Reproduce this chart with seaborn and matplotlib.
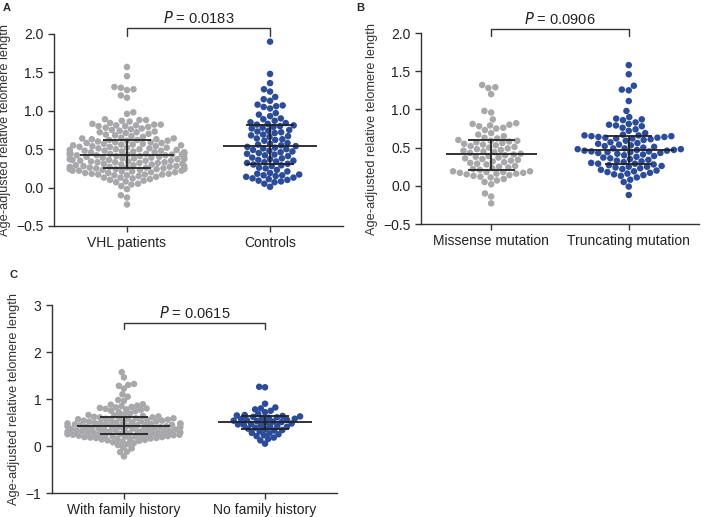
import numpy as np
import pandas as pd
import matplotlib
matplotlib.use("Agg")
import matplotlib.pyplot as plt
from matplotlib.collections import PathCollection
import seaborn as sns

# values (age-adjusted relative telomere length)
vhl_patients = [
    -0.22, -0.13, -0.10, -0.02, 0.02, 0.04, 0.05, 0.07, 0.08, 0.09,
    0.10, 0.11, 0.12, 0.13, 0.13, 0.14, 0.15, 0.16, 0.16, 0.17,
    0.17, 0.17, 0.18, 0.18, 0.19, 0.19, 0.20, 0.20, 0.21, 0.21,
    0.22, 0.22, 0.22, 0.23, 0.23, 0.24, 0.24, 0.24, 0.24, 0.25,
    0.25, 0.25, 0.26, 0.26, 0.26, 0.27, 0.27, 0.27, 0.28, 0.28,
    0.28, 0.29, 0.29, 0.30, 0.30, 0.31, 0.31, 0.32, 0.32, 0.33,
    0.33, 0.33, 0.34, 0.34, 0.35, 0.35, 0.35, 0.36, 0.36, 0.37,
    0.37, 0.37, 0.38, 0.38, 0.39, 0.39, 0.40, 0.40, 0.40, 0.41,
    0.41, 0.42, 0.42, 0.42, 0.43, 0.43, 0.43, 0.43, 0.44, 0.44,
    0.44, 0.45, 0.45, 0.45, 0.46, 0.46, 0.46, 0.47, 0.47, 0.48,
    0.48, 0.48, 0.49, 0.49, 0.50, 0.50, 0.51, 0.51, 0.52, 0.52,
    0.53, 0.53, 0.54, 0.54, 0.55, 0.55, 0.56, 0.56, 0.57, 0.57,
    0.58, 0.58, 0.59, 0.59, 0.60, 0.61, 0.61, 0.62, 0.62, 0.63,
    0.63, 0.64, 0.64, 0.65, 0.66, 0.67, 0.68, 0.69, 0.70, 0.71,
    0.72, 0.72, 0.73, 0.74, 0.75, 0.76, 0.77, 0.78, 0.79, 0.80,
    0.80, 0.81, 0.81, 0.82, 0.82, 0.83, 0.84, 0.86, 0.87, 0.88,
    0.88, 0.89, 0.96, 0.98, 1.17, 1.20, 1.27, 1.28, 1.30, 1.31,
    1.45, 1.57,
]
controls = [
    0.01, 0.05, 0.07, 0.08, 0.09, 0.10, 0.11, 0.12, 0.13, 0.14,
    0.15, 0.16, 0.16, 0.17, 0.18, 0.19, 0.21, 0.23, 0.25, 0.26,
    0.28, 0.29, 0.30, 0.31, 0.32, 0.33, 0.34, 0.35, 0.36, 0.37,
    0.38, 0.39, 0.41, 0.42, 0.43, 0.44, 0.45, 0.46, 0.47, 0.48,
    0.49, 0.50, 0.51, 0.52, 0.53, 0.54, 0.55, 0.56, 0.57, 0.58,
    0.61, 0.62, 0.63, 0.64, 0.66, 0.67, 0.68, 0.69, 0.71, 0.72,
    0.73, 0.74, 0.75, 0.77, 0.78, 0.79, 0.80, 0.81, 0.82, 0.83,
    0.84, 0.85, 0.87, 0.89, 0.90, 0.93, 0.95, 0.97, 1.03, 1.05,
    1.06, 1.07, 1.08, 1.13, 1.15, 1.18, 1.25, 1.28, 1.36, 1.48,
    1.90,
]
missense = [
    -0.23, -0.14, -0.10, 0.02, 0.05, 0.07, 0.09, 0.11, 0.12, 0.13,
    0.14, 0.15, 0.16, 0.16, 0.17, 0.17, 0.18, 0.18, 0.19, 0.19,
    0.21, 0.22, 0.23, 0.24, 0.25, 0.26, 0.28, 0.29, 0.30, 0.31,
    0.32, 0.33, 0.34, 0.35, 0.36, 0.37, 0.38, 0.39, 0.40, 0.41,
    0.42, 0.43, 0.44, 0.45, 0.46, 0.47, 0.48, 0.49, 0.50, 0.51,
    0.52, 0.53, 0.54, 0.55, 0.56, 0.57, 0.58, 0.59, 0.59, 0.60,
    0.62, 0.63, 0.65, 0.67, 0.69, 0.73, 0.75, 0.76, 0.78, 0.79,
    0.80, 0.81, 0.82, 0.87, 0.96, 0.98, 1.20, 1.28, 1.29, 1.32,
]
truncating = [
    -0.12, -0.01, 0.05, 0.08, 0.11, 0.13, 0.14, 0.15, 0.16, 0.17,
    0.18, 0.19, 0.20, 0.21, 0.22, 0.23, 0.24, 0.25, 0.25, 0.26,
    0.27, 0.28, 0.29, 0.29, 0.30, 0.31, 0.32, 0.33, 0.34, 0.35,
    0.36, 0.37, 0.38, 0.39, 0.40, 0.41, 0.42, 0.43, 0.43, 0.44,
    0.44, 0.45, 0.45, 0.46, 0.46, 0.47, 0.47, 0.48, 0.48, 0.49,
    0.49, 0.50, 0.51, 0.52, 0.53, 0.54, 0.55, 0.56, 0.57, 0.59,
    0.60, 0.61, 0.62, 0.62, 0.63, 0.63, 0.64, 0.64, 0.65, 0.65,
    0.66, 0.66, 0.67, 0.69, 0.72, 0.74, 0.76, 0.78, 0.79, 0.80,
    0.81, 0.83, 0.86, 0.87, 0.88, 0.90, 0.98, 1.11, 1.25, 1.26,
    1.31, 1.46, 1.58,
]
with_family = [
    -0.22, -0.13, -0.12, -0.05, -0.03, 0.02, 0.04, 0.06, 0.08, 0.09,
    0.11, 0.12, 0.13, 0.14, 0.15, 0.15, 0.16, 0.17, 0.17, 0.18,
    0.19, 0.19, 0.20, 0.20, 0.21, 0.21, 0.22, 0.22, 0.23, 0.23,
    0.24, 0.24, 0.25, 0.25, 0.26, 0.26, 0.27, 0.27, 0.28, 0.28,
    0.29, 0.29, 0.30, 0.30, 0.31, 0.31, 0.32, 0.32, 0.33, 0.33,
    0.34, 0.34, 0.35, 0.35, 0.36, 0.36, 0.37, 0.38, 0.38, 0.39,
    0.40, 0.40, 0.41, 0.41, 0.42, 0.42, 0.43, 0.43, 0.44, 0.44,
    0.45, 0.45, 0.46, 0.46, 0.47, 0.47, 0.48, 0.48, 0.49, 0.49,
    0.50, 0.50, 0.51, 0.52, 0.52, 0.53, 0.54, 0.54, 0.55, 0.56,
    0.56, 0.57, 0.58, 0.58, 0.59, 0.59, 0.60, 0.61, 0.61, 0.62,
    0.63, 0.64, 0.65, 0.66, 0.67, 0.69, 0.72, 0.74, 0.75, 0.77,
    0.78, 0.79, 0.80, 0.81, 0.82, 0.83, 0.85, 0.86, 0.88, 0.89,
    0.96, 0.98, 1.05, 1.10, 1.22, 1.28, 1.30, 1.32, 1.46, 1.57,
]
no_family = [
    0.05, 0.12, 0.15, 0.18, 0.21, 0.23, 0.25, 0.27, 0.28, 0.31,
    0.33, 0.34, 0.36, 0.37, 0.39, 0.41, 0.42, 0.43, 0.44, 0.45,
    0.46, 0.47, 0.48, 0.50, 0.51, 0.52, 0.53, 0.54, 0.55, 0.56,
    0.57, 0.58, 0.59, 0.60, 0.61, 0.62, 0.63, 0.64, 0.65, 0.66,
    0.68, 0.72, 0.75, 0.78, 0.80, 0.82, 0.90, 1.25, 1.26,
]

labels_a = ["VHL patients", "Controls"]
labels_b = ["Missense mutation", "Truncating mutation"]
labels_c = ["With family history", "No family history"]
p_texts = ["0.0183", "0.0906", "0.0615"]

gray = "#a8a8aa"
blue = "#2b4b9b"
dark = "#222222"

sns.set_style("ticks")
plt.rcParams["font.family"] = ["Liberation Sans", "DejaVu Sans"]
plt.rcParams["axes.edgecolor"] = "#333333"
plt.rcParams["xtick.color"] = "#333333"
plt.rcParams["ytick.color"] = "#333333"

fig = plt.figure(figsize=(7.09, 5.17), dpi=100)
ax_a = fig.add_axes([0.0762, 0.5629, 0.4076, 0.3714])
ax_b = fig.add_axes([0.5938, 0.5667, 0.392, 0.3694])
ax_c = fig.add_axes([0.0733, 0.0464, 0.402, 0.3636])


def panel(ax, names, groups, ylim, yticks, fmt, ptext, br_y, br_arm, txt_y,
          layout_size):
    df = pd.DataFrame({
        "group": np.repeat(names, [len(g) for g in groups]),
        "value": np.concatenate(groups),
    })
    sns.swarmplot(data=df, x="group", y="value", hue="group", order=names,
                  hue_order=names, palette=[gray, blue], size=layout_size,
                  linewidth=0, legend=False, ax=ax, zorder=2, warn_thresh=1)
    for i, g in enumerate(groups):
        q1, med, q3 = np.percentile(g, [25, 50, 75])
        ax.hlines(med, i - 0.33, i + 0.33, color=dark, lw=1.3, zorder=5)
        ax.hlines([q1, q3], i - 0.17, i + 0.17, color=dark, lw=1.3, zorder=5)
        ax.vlines(i, q1, q3, color=dark, lw=1.3, zorder=5)
    ax.set_xlim(-0.51, 1.51)
    ax.set_ylim(*ylim)
    ax.set_yticks(yticks)
    ax.set_yticklabels([fmt.format(t).replace("-", "\u2212") for t in yticks])
    ax.set_xlabel("")
    ax.set_ylabel("Age-adjusted relative telomere length", fontsize=9.2,
                  color="#333333", labelpad=4)
    ax.tick_params(axis="both", labelsize=10, length=4, width=1,
                   labelcolor="#222222")
    for s in ["top", "right"]:
        ax.spines[s].set_visible(False)
    for s in ["left", "bottom"]:
        ax.spines[s].set_linewidth(1)
    ax.plot([0, 0, 1, 1], [br_arm, br_y, br_y, br_arm], color="#333333",
            lw=1, clip_on=False)
    ax.text(0.5, txt_y, "$\\it{P}$ = " + ptext, ha="center", va="center",
            fontsize=10.5, color="#222222")


panel(ax_a, labels_a, [vhl_patients, controls], (-0.5, 2.0),
      [-0.5, 0.0, 0.5, 1.0, 1.5, 2.0], "{:.1f}", p_texts[0], 2.073, 1.978, 2.21,
      4.5)
panel(ax_b, labels_b, [missense, truncating], (-0.5, 2.0),
      [-0.5, 0.0, 0.5, 1.0, 1.5, 2.0], "{:.1f}", p_texts[1], 2.052, 1.955, 2.18,
      4.8)
panel(ax_c, labels_c, [with_family, no_family], (-1, 3),
      [-1, 0, 1, 2, 3], "{:.0f}", p_texts[2], 2.62, 2.49, 2.83,
      4.0)

# lay the swarms out with the small dots, then freeze them and draw the dots
# a bit bigger, so neighbours overlap a little as in the original figure
fig.canvas.draw()
for ax in (ax_a, ax_b, ax_c):
    for coll in ax.collections:
        if isinstance(coll, PathCollection):
            if "draw" in coll.__dict__:
                del coll.draw
            coll.set_sizes([22])

fig.text(0.004, 0.995, "A", fontsize=8, fontweight="bold", va="top")
fig.text(0.503, 0.995, "B", fontsize=8, fontweight="bold", va="top")
fig.text(0.014, 0.478, "C", fontsize=8, fontweight="bold", va="top")

fig.savefig("out.png", dpi=100)
